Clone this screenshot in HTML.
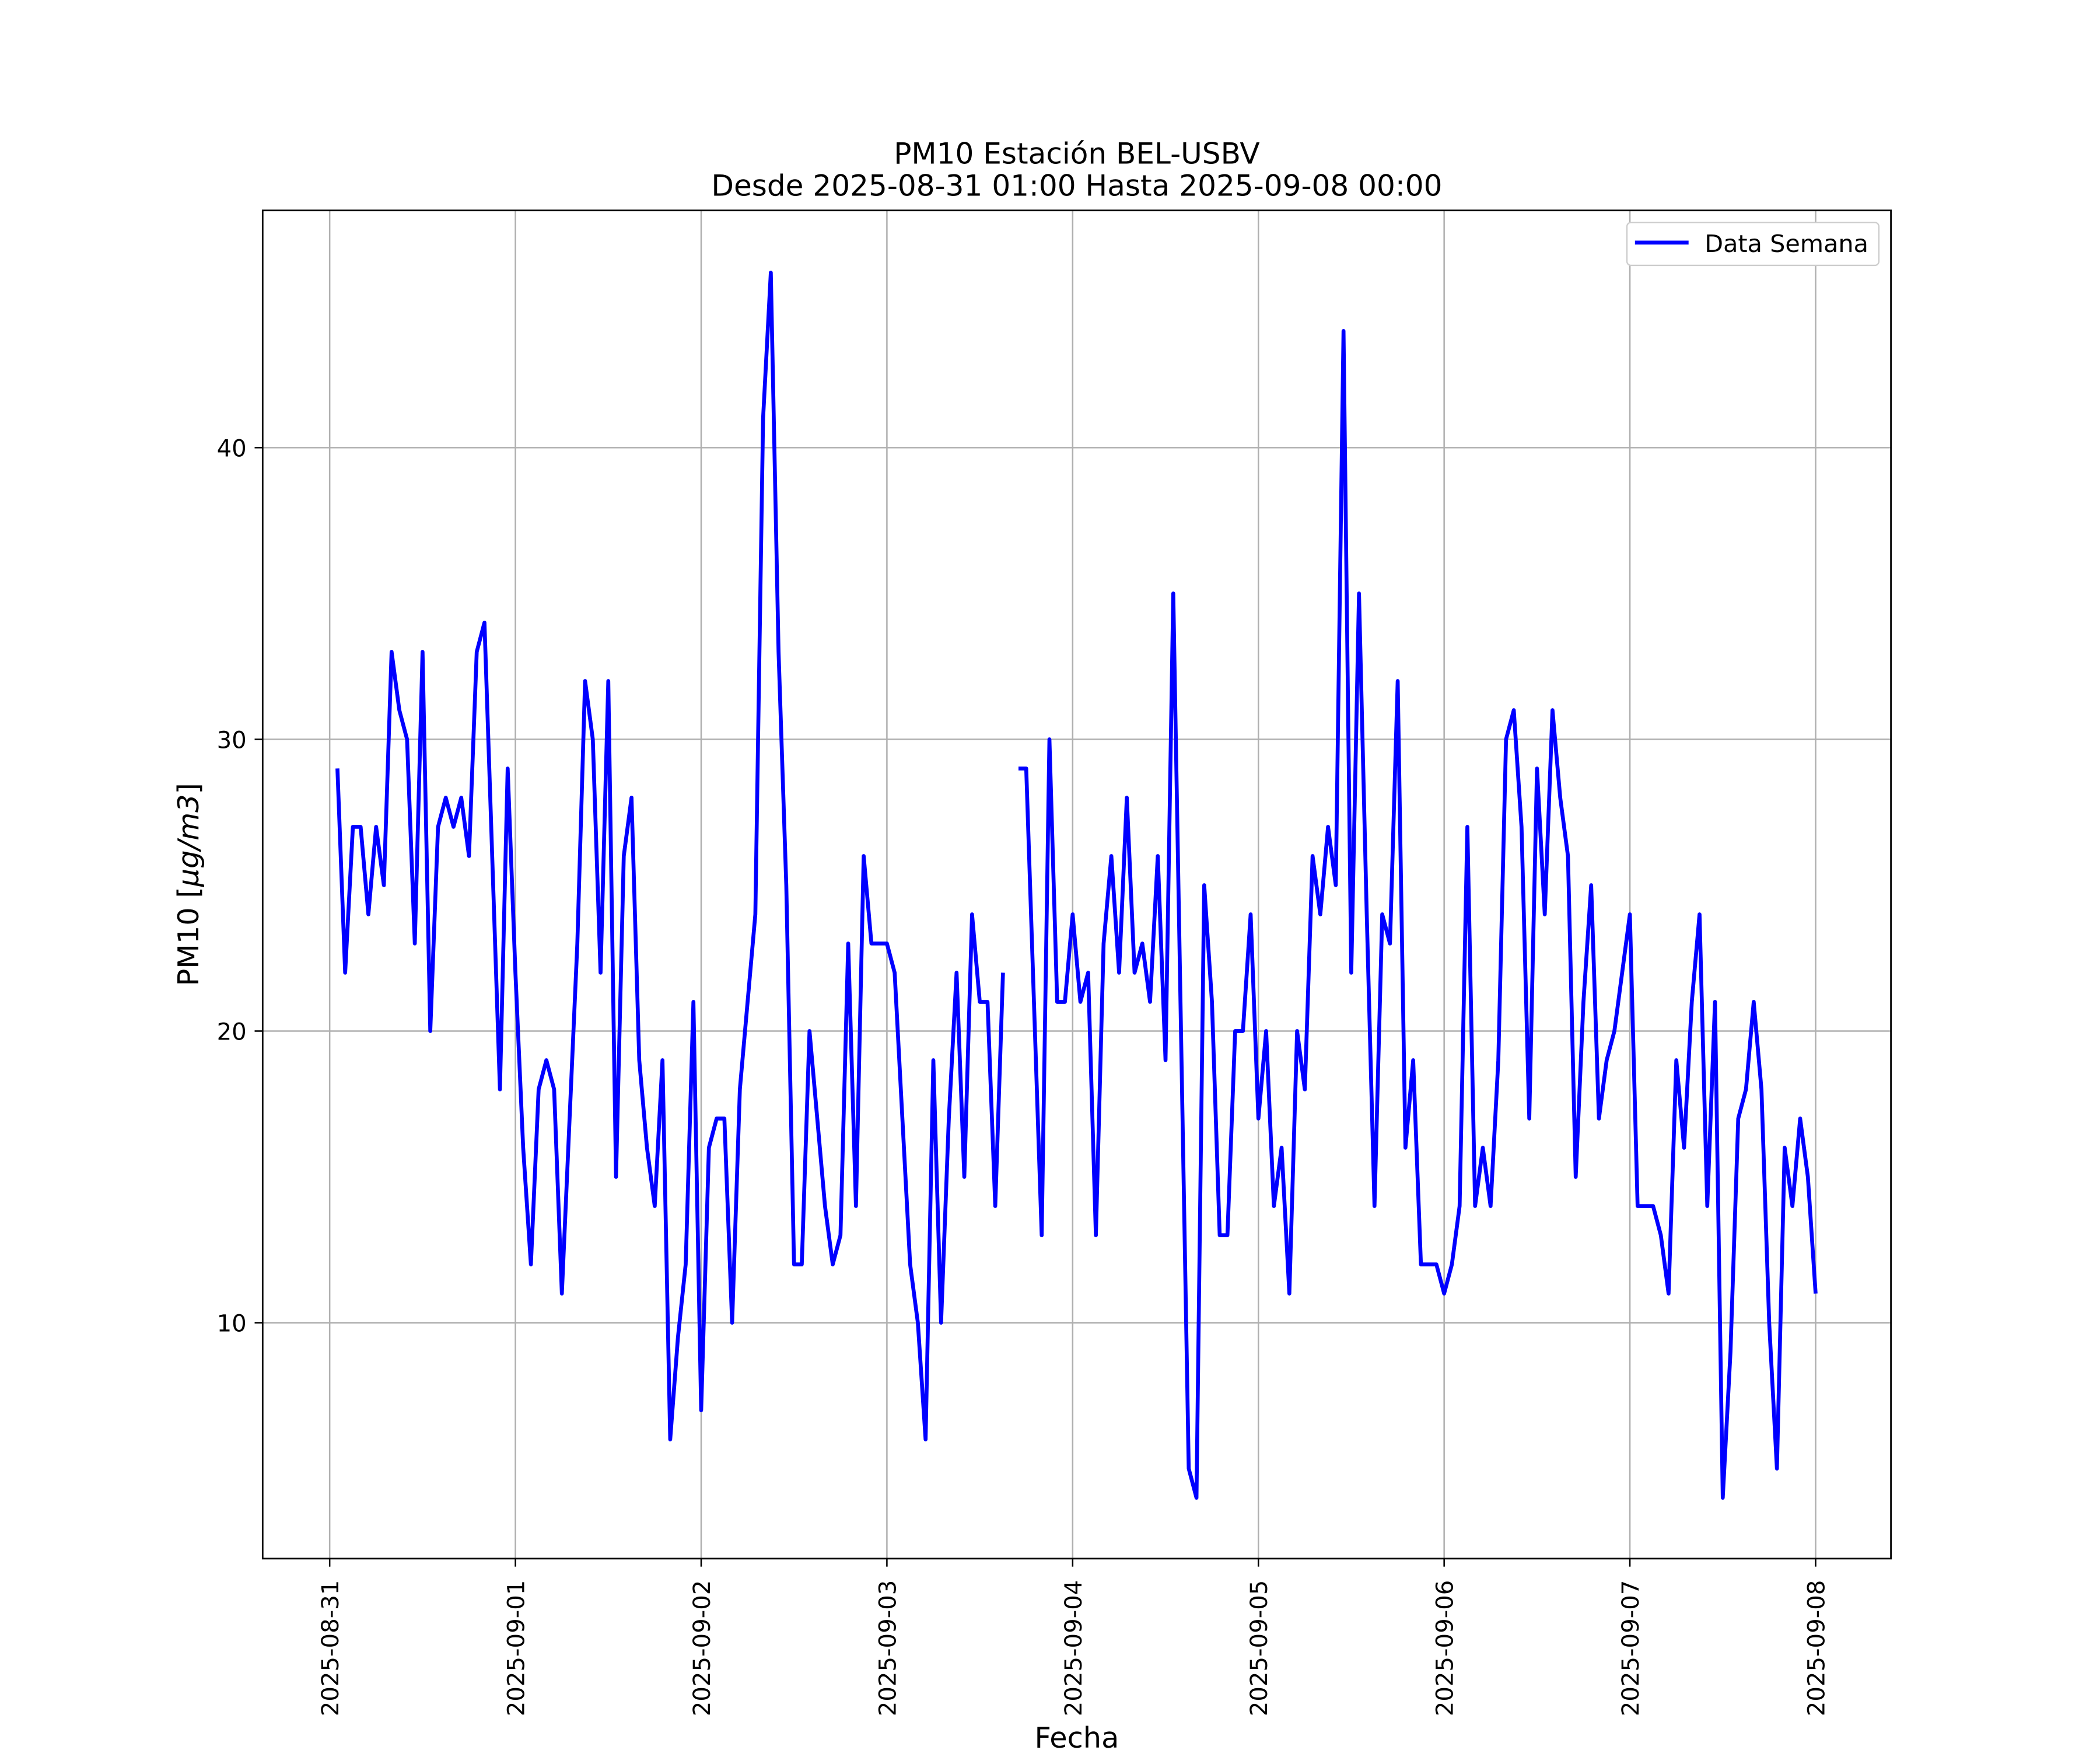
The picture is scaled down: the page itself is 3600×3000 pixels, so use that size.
<!DOCTYPE html>
<html><head><meta charset="utf-8"><style>
html,body{margin:0;padding:0;background:#fff}
svg{display:block}
text{font-family:"DejaVu Sans","Liberation Sans",sans-serif;fill:#000}
</style></head><body>
<svg id="chart" width="3600" height="3000" viewBox="0 0 1567 1305.8" xmlns="http://www.w3.org/2000/svg">
<rect x="0" y="0" width="1567" height="1305.8" fill="#fff"/>
<text x="803.5" y="122" font-size="21.8" text-anchor="middle">PM10 Estación BEL-USBV</text>
<text x="803.5" y="146" font-size="21.8" text-anchor="middle">Desde 2025-08-31 01:00 Hasta 2025-09-08 00:00</text>
<g id="grid"></g>
<g id="series"></g>
<rect x="196" y="157" width="1215" height="1006" fill="none" stroke="#000" stroke-width="1.2"/>
<g id="axes"></g>
<text x="803.5" y="1304" font-size="21.5" text-anchor="middle">Fecha</text>
<text transform="translate(148,660) rotate(-90)" font-size="21.5" text-anchor="middle">PM10 [<tspan font-style="italic">μg/m3</tspan>]</text>
<g>
<rect x="1214" y="166" width="188" height="32" rx="3" fill="#fff" stroke="#ccc" stroke-width="1"/>
<line x1="1220" y1="181" x2="1260" y2="181" stroke="#0000ff" stroke-width="2.9"/>
<text x="1272" y="188" font-size="18">Data Semana</text>
</g>
</svg>
<script>
const xTickLabels=["2025-08-31","2025-09-01","2025-09-02","2025-09-03","2025-09-04","2025-09-05","2025-09-06","2025-09-07","2025-09-08"];
const yTicks=[10,20,30,40];
const startHour=1;
const pm10=[29,22,27,27,24,27,25,33,31,30,23,33,20,27,28,27,28,26,33,34,26,18,29,22,
16,12,18,19,18,11,17,23,32,30,22,32,15,26,28,19,16,14,19,6,9.5,12,21,7,
16,17,17,10,18,21,24,41,46,33,25,12,12,20,17,14,12,13,23,14,26,23,23,23,
22,17,12,10,6,19,10,17,22,15,24,21,21,14,22,null,29,29,21,13,30,21,21,24,
21,22,13,23,26,22,28,22,23,21,26,19,35,20,5,4,25,21,13,13,20,20,24,17,
20,14,16,11,20,18,26,24,27,25,44,22,35,24,14,24,23,32,16,19,12,12,12,11,
12,14,27,14,16,14,19,30,31,27,17,29,24,31,28,26,15,21,25,17,19,20,22,24,
14,14,14,13,11,19,16,21,24,14,21,4,9,17,18,21,18,10,5,16,14,17,15,11];
const NS="http://www.w3.org/2000/svg";
const X0=246,DAY=138.6;
function xs(h){return X0+DAY*h/24;}
function ys(v){return 987-(v-10)*(653/30);}
const grid=document.getElementById('grid'),axes=document.getElementById('axes'),series=document.getElementById('series');
function mk(tag,attrs,parent){const e=document.createElementNS(NS,tag);for(const k in attrs)e.setAttribute(k,attrs[k]);parent.appendChild(e);return e;}
xTickLabels.forEach((lab,i)=>{
 const x=xs(i*24);
 const g=mk('line',{x1:x,y1:157,x2:x,y2:1163,stroke:'#b0b0b0','stroke-width':1.1},grid);
 
 
 const t=mk('line',{x1:x,y1:1163,x2:x,y2:1169,stroke:'#000','stroke-width':1.1},axes);
 
 
 const tx=mk('text',{transform:`translate(${x+6.5},1179) rotate(-90)`,'font-size':17.5,'text-anchor':'end'},axes);
 tx.textContent=lab;
 
 
});
yTicks.forEach(v=>{
 const y=ys(v);
 const g=mk('line',{x1:196,y1:y,x2:1411,y2:y,stroke:'#b0b0b0','stroke-width':1.1},grid);
 
 
 const t=mk('line',{x1:190,y1:y,x2:196,y2:y,stroke:'#000','stroke-width':1.1},axes);
 
 
 const tx=mk('text',{x:184,y:y+6.5,'font-size':17.5,'text-anchor':'end'},axes);
 tx.textContent=String(v);
 
 
});
let d='',pen=false;
pm10.forEach((v,i)=>{
 if(v===null){pen=false;return;}
 d+=(pen?'L':'M')+xs(startHour+i).toFixed(2)+' '+ys(v).toFixed(2)+' ';
 pen=true;
});
const p=mk('path',{d:d,fill:'none',stroke:'#0000ff','stroke-width':2.9,'stroke-linejoin':'round'},series);


</script>
</body></html>
